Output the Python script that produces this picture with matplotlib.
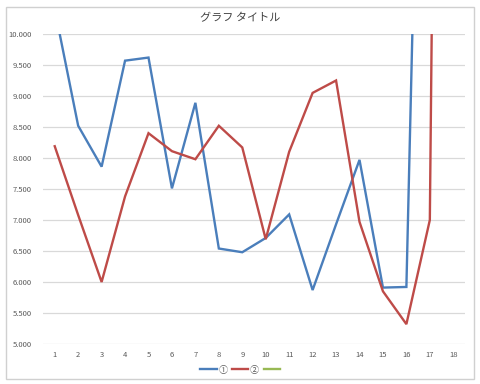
import matplotlib
matplotlib.use("Agg")
import matplotlib.pyplot as plt
from matplotlib.patches import Rectangle
from matplotlib.lines import Line2D

plt.rcParams['font.family'] = ['Noto Sans CJK JP', 'DejaVu Sans']

categories = [str(i) for i in range(1, 19)]
series1 = [10.40, 8.52, 7.86, 9.57, 9.62, 7.51, 8.89, 6.54, 6.48, 6.71, 7.09,
           5.87, 6.93, 7.97, 5.91, 5.92, 22.0]
series2 = [8.19, 7.08, 6.00, 7.38, 8.40, 8.11, 7.98, 8.52, 8.17, 6.69, 8.10,
           9.05, 9.25, 6.97, 5.85, 5.32, 7.00, 45.0]
series3 = []
labels = ['①', '②', '']
colors = ['#4A7EBB', '#BE4B48', '#98B954']
yticks = [5.0 + 0.5 * i for i in range(11)]

fig = plt.figure(figsize=(4.8, 3.84), dpi=100)
ax = fig.add_axes([43 / 480, 1 - 344 / 384, (465 - 43) / 480, (344 - 34) / 384])

x1 = list(range(1, len(series1) + 1))
x2 = list(range(1, len(series2) + 1))
lw = 1.7
ax.plot(x1, series1, color=colors[0], lw=lw, solid_joinstyle='miter')
ax.plot(x2, series2, color=colors[1], lw=lw, solid_joinstyle='miter')
ax.plot(list(range(1, len(series3) + 1)), series3, color=colors[2], lw=lw)

ax.set_xlim(0.5, 18.5)
ax.set_ylim(5.0, 10.0)
ax.set_xticks(range(1, 19))
ax.set_xticklabels(categories)
ax.set_yticks(yticks)
ax.set_yticklabels([f"{v:.3f}" for v in yticks])
ax.tick_params(axis='both', length=0, labelsize=5.5, labelcolor='#595959')
ax.tick_params(axis='x', pad=5)
ax.tick_params(axis='y', pad=8)
for s in ax.spines.values():
    s.set_visible(False)
ax.grid(axis='y', color='#D9D9D9', lw=0.9)
ax.set_axisbelow(True)

fig.text(240 / 480, 1 - 18 / 384, 'グラフ タイトル', ha='center', va='center',
         fontsize=8, color='#404040')

handles = [Line2D([], [], color=c, lw=lw) for c in colors]
leg = fig.legend(handles, labels, loc='center',
                 bbox_to_anchor=(241 / 480, 1 - 370 / 384), ncol=3,
                 frameon=False, fontsize=6.5, handlelength=1.8, handletextpad=0.2,
                 columnspacing=0.5)
for t in leg.get_texts():
    t.set_color('#595959')

fig.patches.append(Rectangle((6 / 480, 5 / 384), 468 / 480, 372 / 384,
                             transform=fig.transFigure, fill=False,
                             edgecolor='#D0D0D0', lw=1.0))

fig.savefig('out.png', dpi=100)
